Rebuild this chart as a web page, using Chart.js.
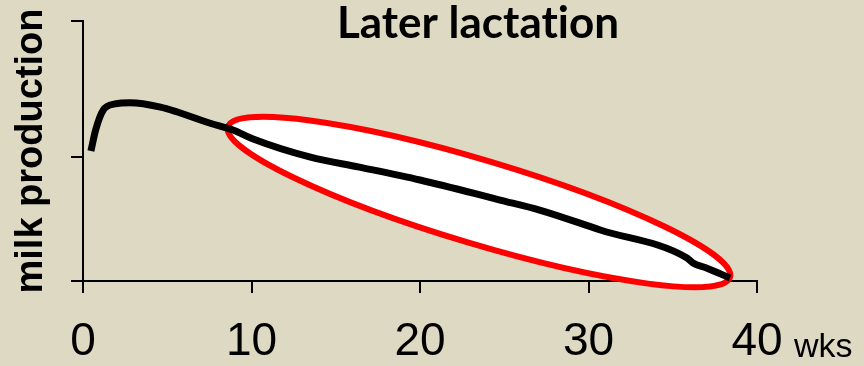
<!DOCTYPE html>
<html>
<head>
<meta charset="utf-8">
<script src="https://cdn.jsdelivr.net/npm/chart.js@4"></script>
<style>
    html, body { margin: 0; padding: 0; background: #DDD9C3; }
    #wrap { width: 864px; height: 366px; position: relative; }
</style>
</head>
<body>
<div id="wrap"><canvas id="lactationChart"></canvas></div>
<script>
// weeks of lactation and relative milk production
const weeks = [0.47, 0.75, 1.2, 1.9, 2.8, 4.6, 5.6, 7.5, 8.9, 10.1, 13.5, 16.4, 20.0, 24.75, 27.1, 30.7, 35.85, 36.2, 37.0, 38.4];
const milk = [1.05, 1.22, 1.38, 1.43, 1.44, 1.405, 1.365, 1.276, 1.22, 1.147, 1.00, 0.92, 0.816, 0.654, 0.573, 0.412, 0.186, 0.145, 0.105, 0.024];

const xTicks = [0, 10, 20, 30, 40];
const yTicks = [0, 1, 2.1];

// ends of the highlighted "later lactation" ellipse, in data units
const ellipseStart = [8.6, 1.245];
const ellipseEnd = [38.4, 0.031];

const titleText = "Later lactation";
const xUnit = "wks";
const yLabel = "milk production";

const points = weeks.map((w, i) => ({ x: w, y: milk[i] }));

const overlay = {
    id: "overlay",
    beforeDatasetsDraw(chart) {
        const ctx = chart.ctx;
        const xs = chart.scales.x, ys = chart.scales.y;
        const x1 = xs.getPixelForValue(ellipseStart[0]), y1 = ys.getPixelForValue(ellipseStart[1]);
        const x2 = xs.getPixelForValue(ellipseEnd[0]), y2 = ys.getPixelForValue(ellipseEnd[1]);
        const cx = (x1 + x2) / 2, cy = (y1 + y2) / 2;
        const rx = Math.hypot(x2 - x1, y2 - y1) / 2;
        const angle = Math.atan2(y2 - y1, x2 - x1);
        ctx.save();
        ctx.beginPath();
        ctx.ellipse(cx, cy, rx, 42, angle, 0, Math.PI * 2);
        ctx.fillStyle = "#ffffff";
        ctx.fill();
        ctx.lineWidth = 6;
        ctx.strokeStyle = "#ff0000";
        ctx.stroke();
        ctx.restore();
    },
    afterDraw(chart) {
        const ctx = chart.ctx;
        const xs = chart.scales.x;
        ctx.save();
        ctx.fillStyle = "#000";
        ctx.textAlign = "center";
        ctx.textBaseline = "alphabetic";
        ctx.font = "bold 44px Lato, 'Open Sans', sans-serif";
        ctx.textRendering = "optimizeSpeed"; // no "ti" ligature
        ctx.fillText(titleText, 478, 38);
        ctx.textRendering = "auto";
        ctx.textAlign = "left";
        ctx.font = "34px 'Liberation Sans', Arial, sans-serif";
        ctx.fillText(xUnit, xs.getPixelForValue(40) + 37, 357);
        ctx.restore();
    }
};

new Chart(document.getElementById("lactationChart"), {
    type: "line",
    data: {
        datasets: [{
            data: points,
            borderColor: "#000000",
            borderWidth: 7,
            pointRadius: 0,
            cubicInterpolationMode: "monotone",
            fill: false
        }]
    },
    options: {
        responsive: true,
        maintainAspectRatio: false,
        animation: false,
        devicePixelRatio: 1,
        layout: { padding: { left: 0, right: 107, top: 21, bottom: 0 } },
        plugins: {
            legend: { display: false },
            tooltip: { enabled: false },
            title: { display: false }
        },
        scales: {
            x: {
                type: "linear",
                min: 0,
                max: 40,
                z: 1,
                afterBuildTicks: scale => { scale.ticks = xTicks.map(v => ({ value: v })); },
                afterFit: scale => { scale.height = 85; },
                grid: { drawOnChartArea: false, tickLength: 12, color: "#000", lineWidth: 2 },
                border: { color: "#000", width: 2 },
                ticks: {
                    color: "#000",
                    padding: 22,
                    maxRotation: 0,
                    font: { family: "'Liberation Sans', Arial, sans-serif", size: 46 }
                }
            },
            y: {
                min: 0,
                max: 2.1,
                afterBuildTicks: scale => { scale.ticks = yTicks.map(v => ({ value: v })); },
                afterFit: scale => { scale.width = 83; },
                grid: { drawOnChartArea: false, tickLength: 12, color: "#000", lineWidth: 2 },
                border: { color: "#000", width: 2 },
                ticks: { display: false },
                title: {
                    display: true,
                    text: yLabel,
                    color: "#000",
                    padding: { top: 9, bottom: 0 },
                    font: { family: "'Liberation Sans', Arial, sans-serif", size: 38, weight: "bold" }
                }
            }
        }
    },
    plugins: [overlay]
});
</script>
</body>
</html>
